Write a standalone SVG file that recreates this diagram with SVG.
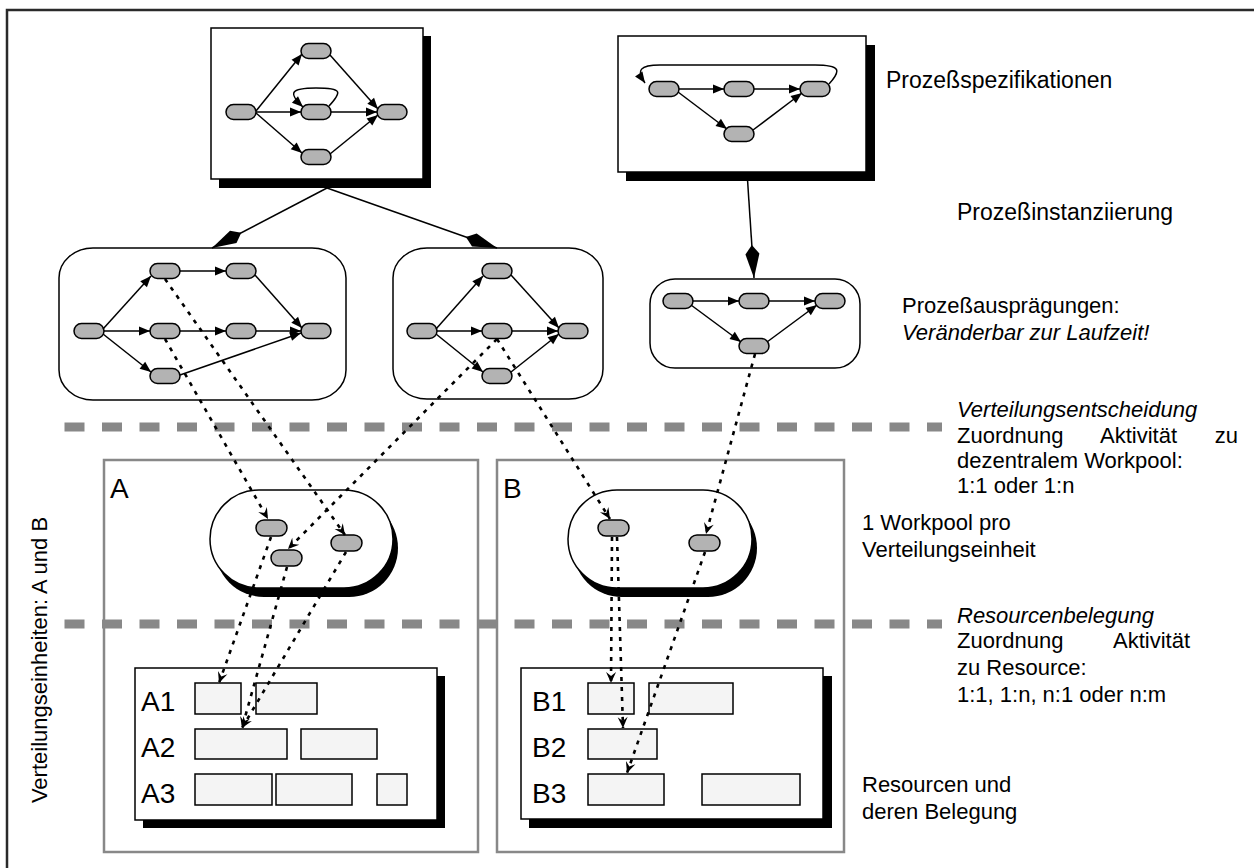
<svg xmlns="http://www.w3.org/2000/svg" width="1254" height="868" viewBox="0 0 1254 868">
<style>
.nd{fill:#b3b3b3;stroke:#000;stroke-width:1.5}
.bx{fill:#fff;stroke:#000;stroke-width:1.5}
.sh{fill:#000}
.ed{fill:none;stroke:#000;stroke-width:1.5;marker-end:url(#ar)}
.dt{fill:none;stroke:#000;stroke-width:2.6;stroke-dasharray:4 6;marker-end:url(#da)}
.big{fill:none;stroke:#000;stroke-width:1.5;marker-end:url(#kite)}
.sep{stroke:#888;stroke-width:9;stroke-dasharray:20 17.5;fill:none}
.fr{fill:none;stroke:#888;stroke-width:2.5}
.bar{fill:#f4f4f4;stroke:#000;stroke-width:1.5}
.t{font-family:"Liberation Sans",Arial,sans-serif;font-size:22px;fill:#000}
.i{font-style:italic}
.lb{font-family:"Liberation Sans",Arial,sans-serif;font-size:28px;fill:#000}
</style>
<defs>
<marker id="ar" viewBox="-12 -6 13 12" refX="0" refY="0" markerWidth="13" markerHeight="12" orient="auto" markerUnits="userSpaceOnUse"><path d="M0,0 L-11,-4.5 L-11,4.5 Z" fill="#000"/></marker>
<marker id="kite" viewBox="-35 -8 36 16" refX="0" refY="0" markerWidth="36" markerHeight="16" orient="auto" markerUnits="userSpaceOnUse"><path d="M0,0 L-24,-7 L-33,0 L-24,7 Z" fill="#000"/></marker>
<marker id="da" viewBox="-12 -6 13 12" refX="0" refY="0" markerWidth="13" markerHeight="12" orient="auto" markerUnits="userSpaceOnUse"><path d="M0,0 L-11,-5 L-7,0 L-11,5 Z" fill="#000"/></marker>
</defs>
<rect width="1254" height="868" fill="#fff"/>
<rect x="7" y="10" width="1270" height="880" fill="none" stroke="#2a2a2a" stroke-width="2.5"/>

<g id="frame-A"><rect class="fr" x="104" y="460" width="374" height="392"/><text class="lb" x="110" y="498">A</text></g>
<g id="frame-B"><rect class="fr" x="497" y="460" width="347" height="392"/><text class="lb" x="503" y="498">B</text></g>

<g id="separators">
<line class="sep" x1="64.5" y1="427" x2="942" y2="427"/>
<line class="sep" x1="64.5" y1="624" x2="942" y2="624"/>
</g>

<g id="spec1">
<rect class="sh" x="219" y="36" width="212" height="152"/>
<rect class="bx" x="211" y="28" width="212" height="151"/>
<rect class="nd" x="226" y="104.5" width="30" height="15" rx="7.5"/>
<rect class="nd" x="301" y="43.5" width="30" height="15" rx="7.5"/>
<rect class="nd" x="301" y="104.5" width="30" height="15" rx="7.5"/>
<rect class="nd" x="301" y="149.5" width="30" height="15" rx="7.5"/>
<rect class="nd" x="377" y="104.5" width="30" height="15" rx="7.5"/>
</g>
<g id="spec2">
<rect class="sh" x="626" y="45" width="249" height="136"/>
<rect class="bx" x="618" y="36" width="248" height="136"/>
<rect class="nd" x="649" y="81.5" width="30" height="15" rx="7.5"/>
<rect class="nd" x="724" y="81.5" width="30" height="15" rx="7.5"/>
<rect class="nd" x="800" y="81.5" width="30" height="15" rx="7.5"/>
<rect class="nd" x="724" y="126.5" width="30" height="15" rx="7.5"/>
</g>

<g id="inst1">
<rect class="bx" x="59" y="248" width="287" height="152" rx="34" ry="30"/>
<rect class="nd" x="74" y="323.5" width="30" height="15" rx="7.5"/>
<rect class="nd" x="150" y="263.5" width="30" height="15" rx="7.5"/>
<rect class="nd" x="226" y="263.5" width="30" height="15" rx="7.5"/>
<rect class="nd" x="150" y="323.5" width="30" height="15" rx="7.5"/>
<rect class="nd" x="226" y="323.5" width="30" height="15" rx="7.5"/>
<rect class="nd" x="301" y="323.5" width="30" height="15" rx="7.5"/>
<rect class="nd" x="150" y="368.5" width="30" height="15" rx="7.5"/>
</g>
<g id="inst2">
<rect class="bx" x="393" y="248" width="210" height="151" rx="34" ry="30"/>
<rect class="nd" x="407" y="323.5" width="30" height="15" rx="7.5"/>
<rect class="nd" x="482" y="263.5" width="30" height="15" rx="7.5"/>
<rect class="nd" x="482" y="323.5" width="30" height="15" rx="7.5"/>
<rect class="nd" x="482" y="368.5" width="30" height="15" rx="7.5"/>
<rect class="nd" x="558" y="323.5" width="30" height="15" rx="7.5"/>
</g>
<g id="inst3">
<rect class="bx" x="650" y="279" width="210" height="89" rx="25"/>
<rect class="nd" x="663" y="293.5" width="30" height="15" rx="7.5"/>
<rect class="nd" x="739" y="293.5" width="30" height="15" rx="7.5"/>
<rect class="nd" x="815" y="293.5" width="30" height="15" rx="7.5"/>
<rect class="nd" x="739" y="338.5" width="30" height="15" rx="7.5"/>
</g>

<g id="workpool-A">
<rect class="sh" x="215" y="499" width="183" height="98" rx="49"/>
<rect class="bx" x="210" y="490" width="183" height="98" rx="49"/>
<rect class="nd" x="256" y="520" width="31" height="16" rx="8"/>
<rect class="nd" x="271" y="550" width="31" height="16" rx="8"/>
<rect class="nd" x="331" y="535" width="31" height="16" rx="8"/>
</g>
<g id="workpool-B">
<rect class="sh" x="573" y="499" width="184" height="98" rx="49"/>
<rect class="bx" x="568" y="490" width="184" height="98" rx="49"/>
<rect class="nd" x="598" y="520" width="31" height="16" rx="8"/>
<rect class="nd" x="689" y="535" width="31" height="16" rx="8"/>
</g>

<g id="resources-A">
<rect class="sh" x="143" y="676" width="302" height="152"/>
<rect class="bx" x="135" y="668" width="302" height="152"/>
<text class="lb" x="141" y="711">A1</text>
<text class="lb" x="141" y="757">A2</text>
<text class="lb" x="141" y="803">A3</text>
<rect class="bar" x="195" y="683" width="46" height="31"/>
<rect class="bar" x="256" y="683" width="61" height="31"/>
<rect class="bar" x="195" y="729" width="92" height="30"/>
<rect class="bar" x="301" y="729" width="76" height="30"/>
<rect class="bar" x="195" y="774" width="77" height="31"/>
<rect class="bar" x="276" y="774" width="76" height="31"/>
<rect class="bar" x="377" y="774" width="30" height="31"/>
</g>
<g id="resources-B">
<rect class="sh" x="529" y="676" width="303" height="152"/>
<rect class="bx" x="521" y="668" width="302" height="151"/>
<text class="lb" x="532" y="711">B1</text>
<text class="lb" x="532" y="757">B2</text>
<text class="lb" x="532" y="803">B3</text>
<rect class="bar" x="588" y="683" width="46" height="31"/>
<rect class="bar" x="649" y="683" width="84" height="31"/>
<rect class="bar" x="588" y="729" width="69" height="30"/>
<rect class="bar" x="588" y="774" width="76" height="31"/>
<rect class="bar" x="702" y="774" width="98" height="31"/>
</g>

<g id="connectors">
<line class="ed" x1="256" y1="111" x2="302" y2="54"/>
<line class="ed" x1="256" y1="112" x2="301" y2="112"/>
<line class="ed" x1="256" y1="113" x2="302" y2="153"/>
<line class="ed" x1="330" y1="55" x2="378" y2="109"/>
<line class="ed" x1="331" y1="112" x2="377" y2="112"/>
<line class="ed" x1="330" y1="154" x2="378" y2="115"/>
<path class="ed" d="M329,106 C342,92 343,88 316,88 C290,88 288,93 303,107"/>
<line class="ed" x1="679" y1="89" x2="724" y2="89"/>
<line class="ed" x1="754" y1="89" x2="800" y2="89"/>
<line class="ed" x1="678" y1="92" x2="727" y2="129"/>
<line class="ed" x1="753" y1="130" x2="802" y2="93"/>
<path class="ed" d="M829,84 C842,70 840,65 815,65 L660,65 C640,65 636,70 645,83"/>
<line class="ed" x1="103" y1="329" x2="151" y2="276"/>
<line class="ed" x1="104" y1="331" x2="150" y2="331"/>
<line class="ed" x1="103" y1="334" x2="151" y2="372"/>
<line class="ed" x1="180" y1="271" x2="226" y2="271"/>
<line class="ed" x1="180" y1="331" x2="226" y2="331"/>
<line class="ed" x1="255" y1="275" x2="302" y2="328"/>
<line class="ed" x1="256" y1="331" x2="301" y2="331"/>
<line class="ed" x1="180" y1="375" x2="301" y2="333"/>
<line class="ed" x1="436" y1="329" x2="483" y2="276"/>
<line class="ed" x1="437" y1="331" x2="482" y2="331"/>
<line class="ed" x1="436" y1="334" x2="483" y2="372"/>
<line class="ed" x1="511" y1="275" x2="559" y2="328"/>
<line class="ed" x1="512" y1="331" x2="558" y2="331"/>
<line class="ed" x1="511" y1="372" x2="559" y2="334"/>
<line class="ed" x1="693" y1="301" x2="739" y2="301"/>
<line class="ed" x1="769" y1="301" x2="815" y2="301"/>
<line class="ed" x1="691" y1="305" x2="741" y2="342"/>
<line class="ed" x1="767" y1="342" x2="817" y2="305"/>
<line class="big" x1="327" y1="188" x2="212" y2="248"/>
<line class="big" x1="327" y1="188" x2="497" y2="248"/>
<line class="big" x1="747" y1="172" x2="754" y2="278"/>
<line class="dt" x1="165" y1="279" x2="345" y2="535"/>
<line class="dt" x1="165" y1="339" x2="268" y2="519"/>
<line class="dt" x1="497" y1="339" x2="288" y2="549"/>
<line class="dt" x1="497" y1="339" x2="610" y2="519"/>
<line class="dt" x1="755" y1="354" x2="706" y2="534"/>
<line class="dt" x1="271" y1="537" x2="219" y2="683"/>
<line class="dt" x1="287" y1="567" x2="242" y2="728"/>
<line class="dt" x1="346" y1="552" x2="242" y2="728"/>
<line class="dt" x1="612" y1="537" x2="611" y2="683"/>
<line class="dt" x1="617" y1="537" x2="623" y2="728"/>
<line class="dt" x1="705" y1="552" x2="627" y2="773"/>
</g>

<g id="labels">
<text class="t" x="886" y="88" style="font-size:23px">Prozeßspezifikationen</text>
<text class="t" x="957" y="220" style="font-size:23px">Prozeßinstanziierung</text>
<text class="t" x="902" y="313">Prozeßausprägungen:</text>
<text class="t i" x="902" y="340">Veränderbar zur Laufzeit!</text>
<text class="t i" x="957" y="417">Verteilungsentscheidung</text>
<text class="t" x="957" y="443">Zuordnung</text>
<text class="t" x="1100" y="443">Aktivität</text>
<text class="t" x="1238" y="443" text-anchor="end">zu</text>
<text class="t" x="957" y="468">dezentralem Workpool:</text>
<text class="t" x="957" y="493">1:1 oder 1:n</text>
<text class="t" x="862" y="530">1 Workpool pro</text>
<text class="t" x="862" y="557">Verteilungseinheit</text>
<text class="t i" x="957" y="623">Resourcenbelegung</text>
<text class="t" x="957" y="648">Zuordnung</text>
<text class="t" x="1113" y="648">Aktivität</text>
<text class="t" x="957" y="675">zu Resource:</text>
<text class="t" x="957" y="702">1:1, 1:n, n:1 oder n:m</text>
<text class="t" x="862" y="792">Resourcen und</text>
<text class="t" x="862" y="819">deren Belegung</text>
<text class="t" transform="translate(47,660) rotate(-90)" text-anchor="middle">Verteilungseinheiten: A und B</text>
</g>
</svg>
